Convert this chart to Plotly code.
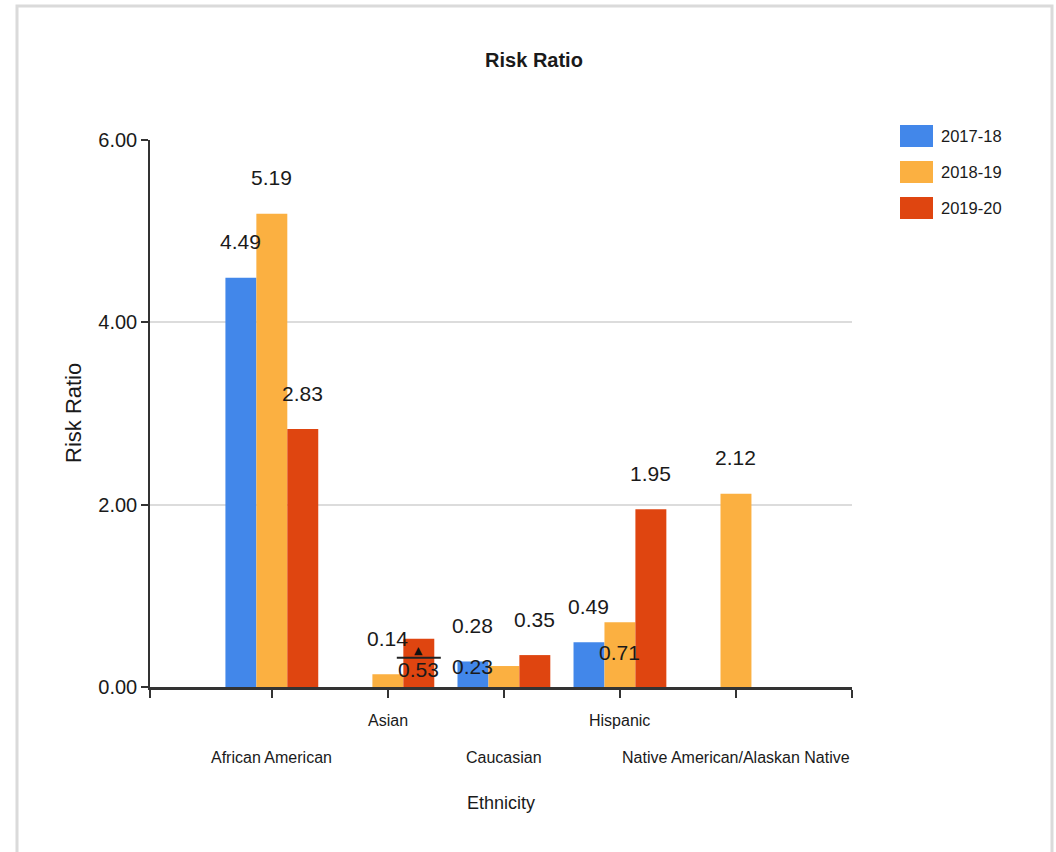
import plotly.graph_objects as go

# ---------------- data ----------------
categories = ["African American", "Asian", "Caucasian", "Hispanic",
              "Native American/Alaskan Native"]
series_names = ["2017-18", "2018-19", "2019-20"]
values_2017_18 = [4.49, None, 0.28, 0.49, None]
values_2018_19 = [5.19, 0.14, 0.23, 0.71, 2.12]
values_2019_20 = [2.83, 0.53, 0.35, 1.95, None]
y_ticks = [0, 2, 4, 6]
y_tick_labels = ["0.00", "2.00", "4.00", "6.00"]

series_values = [values_2017_18, values_2018_19, values_2019_20]
colors = ["#4287ea", "#fbb041", "#df4510"]

FONT = "Liberation Sans Narrow, Arial Narrow, Liberation Sans, Arial, sans-serif"
TXT = "#1a1a1a"

# geometry (pixels) of the plot area
L, R, T, B = 150, 204, 140, 165
W, H = 1056, 852
PW, PH = W - L - R, H - T - B
x_range = [-1.05, 5.0]

def px_x(px):  # pixel -> paper x
    return (px - L) / PW

def px_y(py):  # pixel -> paper y
    return (H - B - py) / PH

n = len(series_names)
group_w = 0.8
slot = group_w / n

fig = go.Figure()
xs = list(range(len(categories)))
for name, vals, col in zip(series_names, series_values, colors):
    fig.add_trace(go.Bar(x=xs, y=vals, name=name, marker_color=col,
                         marker_line_width=0, showlegend=False))

# label placement tweaks: (category index, series index) -> (slot shift, y shift px)
label_tweaks = {(2, 1): (-1, 0), (3, 1): (0, -30), (1, 2): (0, -31)}
annotations = []
shapes = []
for j, vals in enumerate(series_values):
    for i, v in enumerate(vals):
        if v is None:
            continue
        dslot, dy = label_tweaks.get((i, j), (0, 36))
        xc = i + (j - (n - 1) / 2) * slot
        annotations.append(dict(x=xc + dslot * slot, y=v, xref="x", yref="y",
                                text=f"{v:.2f}", showarrow=False,
                                yanchor="middle", yshift=dy,
                                font=dict(family=FONT, size=21, color=TXT)))
        if (i, j) == (1, 2):
            # callout line + pointer for the relocated label
            shapes.append(dict(type="line", xref="x", yref="y",
                               xsizemode="pixel", ysizemode="pixel",
                               xanchor=xc, yanchor=v, x0=-22, x1=22,
                               y0=-19, y1=-19,
                               line=dict(color="#222", width=2)))
            annotations.append(dict(x=xc, y=v, xref="x", yref="y", text="▲",
                                    showarrow=False, yanchor="middle",
                                    yshift=-12,
                                    font=dict(family="DejaVu Sans", size=11,
                                              color="#111")))

# category labels (staggered in two rows)
for i, c in enumerate(categories):
    annotations.append(dict(x=i, y=0, xref="x", yref="y", text=c,
                            showarrow=False, yanchor="middle",
                            yshift=-70 if i % 2 == 0 else -33,
                            font=dict(family=FONT, size=16, color=TXT)))

# axis titles
annotations.append(dict(x=0.5, y=px_y(803), xref="paper", yref="paper",
                        text="Ethnicity", showarrow=False, yanchor="middle",
                        font=dict(family=FONT, size=18, color=TXT)))
annotations.append(dict(x=px_x(73), y=px_y(413), xref="paper", yref="paper",
                        text="Risk Ratio", showarrow=False, textangle=-90,
                        xanchor="center", yanchor="middle",
                        font=dict(family="Liberation Sans, Arial, sans-serif",
                                  size=22, color=TXT)))

# custom legend
for k, (name, col) in enumerate(zip(series_names, colors)):
    yc = px_y(136 + 36 * k)
    shapes.append(dict(type="rect", xref="paper", yref="paper",
                       ysizemode="pixel", yanchor=yc, y0=-11, y1=11,
                       x0=px_x(900), x1=px_x(933), fillcolor=col,
                       line=dict(width=0)))
    annotations.append(dict(x=px_x(939), y=yc, xref="paper", yref="paper",
                            text=name, showarrow=False, xanchor="left",
                            yanchor="middle",
                            font=dict(family=FONT, size=16.5, color=TXT)))

# outer frame
shapes.append(dict(type="rect", xref="paper", yref="paper",
                   x0=px_x(17), x1=px_x(1052), y0=px_y(900), y1=px_y(6),
                   line=dict(color="#dadada", width=3), layer="below"))

fig.update_layout(
    width=W, height=H,
    margin=dict(l=L, r=R, t=T, b=B, autoexpand=False),
    paper_bgcolor="white", plot_bgcolor="white",
    barmode="group", bargap=1 - group_w, bargroupgap=0,
    title=dict(text="<b>Risk Ratio</b>", x=px_x(534), xref="paper",
               xanchor="center", y=1 - 60 / H, yanchor="middle",
               font=dict(family=FONT, size=20, color=TXT)),
    xaxis=dict(range=x_range, tickvals=[x_range[0]] + xs + [x_range[1]],
               showticklabels=False, ticks="outside", ticklen=8,
               tickcolor="#333", tickwidth=1.5,
               showline=True, linecolor="#333", linewidth=2.5,
               showgrid=False, zeroline=False, fixedrange=True),
    yaxis=dict(range=[0, 6], tickvals=y_ticks, ticktext=y_tick_labels,
               ticks="outside", ticklen=7, tickcolor="#333", tickwidth=1.5,
               showline=True, linecolor="#333", linewidth=1.5,
               showgrid=True, gridcolor="#dcdcdc", gridwidth=1.5,
               zeroline=False, tickfont=dict(family=FONT, size=20, color=TXT),
               fixedrange=True),
    annotations=annotations, shapes=shapes,
    showlegend=False,
)

fig.write_html("out.html")
